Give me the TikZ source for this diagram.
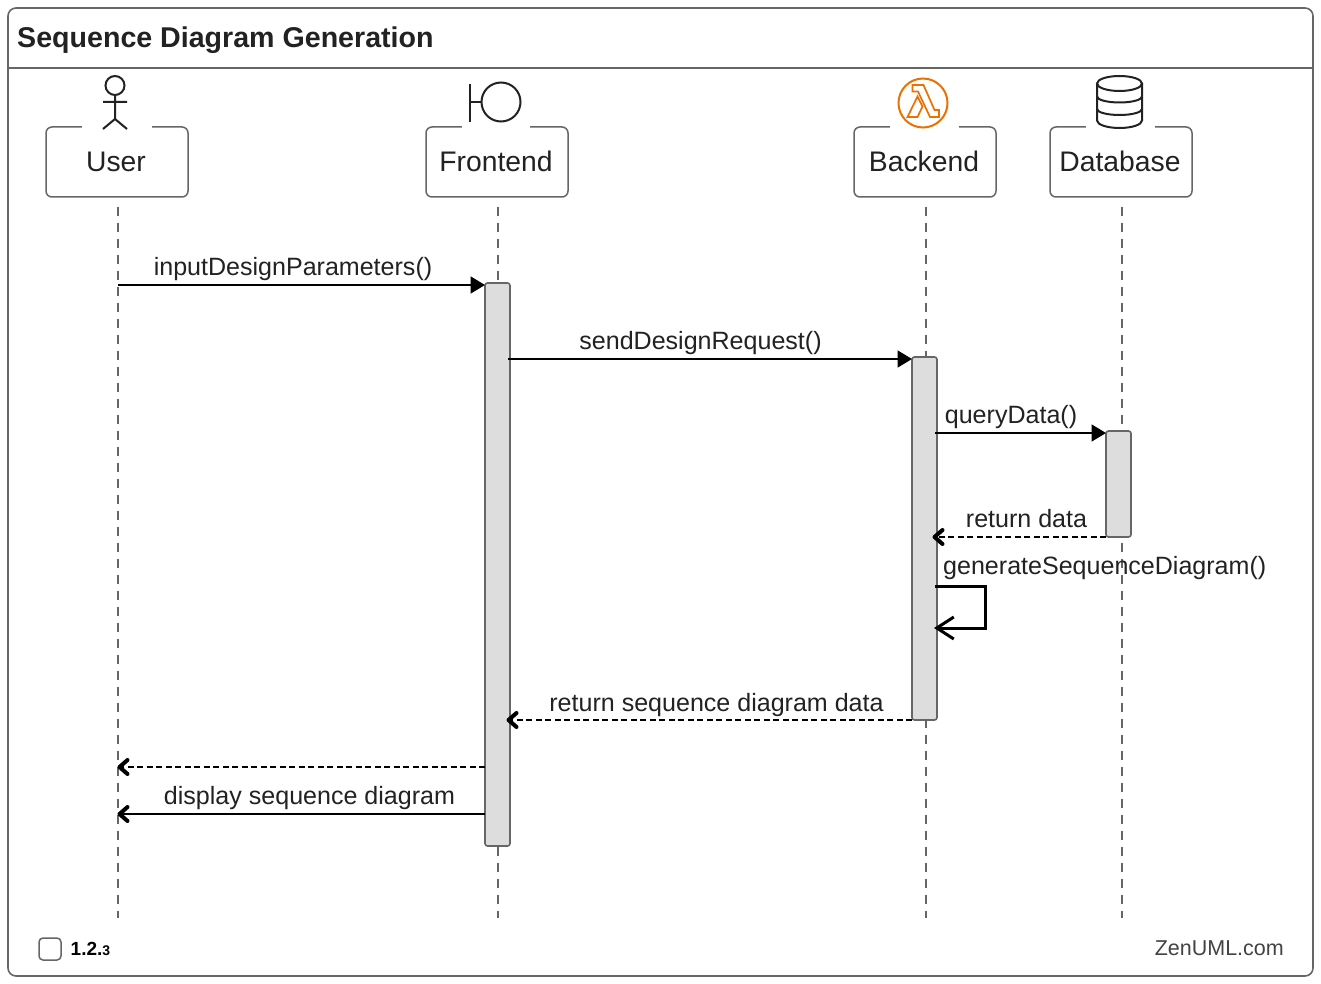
\documentclass[tikz,border=0pt]{standalone}
\usepackage{fontspec}
\setmainfont{Liberation Sans}
\usetikzlibrary{arrows.meta,calc}
\definecolor{ink}{HTML}{222222}
\definecolor{edge}{HTML}{666666}
\definecolor{barfill}{HTML}{DDDDDD}
\definecolor{lambdaorange}{HTML}{ED7100}
\tikzset{
  headbox/.style={draw=edge,line width=1.5pt,rounded corners=6pt,minimum width=142pt,minimum height=70pt,inner sep=0pt,text=ink,font=\fontsize{28.3}{34}\selectfont},
  gapwhite/.style={fill=white,draw=none},
  lifeline/.style={draw=edge,line width=1.5pt,dash pattern=on 9pt off 7pt},
  bar/.style={draw=edge,line width=1.6pt,fill=barfill,rounded corners=2.5pt,minimum width=25pt,inner sep=0pt},
  call/.style={draw=black,line width=1.7pt,-{Triangle[length=14.5pt,width=17pt]}},
  ret/.style={draw=black,line width=1.8pt,dash pattern=on 6pt off 3.5pt,-{Straight Barb[round,length=8pt,width=14pt,line width=4pt]}},
  reply/.style={draw=black,line width=1.8pt,-{Straight Barb[round,length=8pt,width=14pt,line width=4pt]}},
  selfcall/.style={draw=black,line width=3pt,-{Straight Barb[length=17pt,width=22pt,line width=3pt]}},
  msglabel/.style={anchor=base,inner sep=0pt,text=ink,font=\fontsize{25.05}{30}\selectfont},
  partlabel/.style={text=ink,inner sep=0pt,anchor=base,font=\fontsize{28.3}{34}\selectfont},
  icon/.style={draw=ink,line width=2pt},
}
\begin{document}
\begin{tikzpicture}[x=1pt,y=-1pt]
\useasboundingbox (0,0) rectangle (1321,984);
\fill[white] (0,0) rectangle (1321,984);
% frame
\node[draw=edge,line width=1.6pt,rounded corners=8pt,minimum width=1305pt,minimum height=968pt,inner sep=0pt] (frame) at (660.5,492) {};
\coordinate (hl) at (8,68);
\coordinate (hr) at (1313,68);
\draw[edge,line width=1.5pt] (hl) -- (hr);
\node[anchor=base west,inner sep=0pt,text=ink,font=\bfseries\fontsize{28.6}{34}\selectfont] (title) at (17,47.5) {Sequence Diagram Generation};
% lifelines
\foreach \n/\x in {u/118,f/498,b/926,d/1122}{
  \coordinate (\n top) at (\x,207);
  \coordinate (\n bot) at (\x,918);
  \draw[lifeline] (\n top) -- (\n bot);
}
% participants
\node[headbox] (user) at (117,162) {};
\node[headbox] (front) at (497,162) {};
\node[headbox] (back) at (925,162) {};
\node[headbox] (dbase) at (1121,162) {};
\node[partlabel] (userlbl) at (116,171.5) {User};
\node[partlabel] (frontlbl) at (496,171.5) {Frontend};
\node[partlabel] (backlbl) at (924,171.5) {Backend};
\node[partlabel] (dblbl) at (1120,171.5) {Database};
\fill[gapwhite] (82,124) rectangle (152,130);
\fill[gapwhite] (462,124) rectangle (530,130);
\fill[gapwhite] (890,124) rectangle (959,130);
\fill[gapwhite] (1086,124) rectangle (1155,130);
% actor icon
\draw[icon] (115,85.5) circle (9.5);
\draw[icon] (115,95) -- (115,119) (103,102) -- (127,102) (103,129) -- (115,119) -- (127,129);
% boundary icon
\draw[icon] (470,84) -- (470,122) (470,102) -- (481,102);
\draw[icon] (501,102) circle (19.5);
% lambda icon
\draw[lambdaorange,line width=2pt] (923,103) circle (24.5);
\draw[lambdaorange,line width=1.7pt,line join=miter]
  (912.5,85) -- (923.5,85) -- (934.5,110) -- (939,110) -- (939,117) -- (930,117) -- (918,91.5) -- (912.5,91.5) -- cycle
  (907.5,117) -- (917.5,96.5) -- (922.5,106.5) -- (917.5,117) -- cycle;
% database icon
\draw[icon,line cap=round] (1097,83.5) -- (1097,120.5) arc[start angle=180,end angle=0,x radius=22.5,y radius=7.5] -- (1142,83.5);
\draw[icon] (1119.5,83.5) ellipse [x radius=22.5,y radius=7.5];
\draw[icon] (1097,96.5) arc[start angle=180,end angle=0,x radius=22.5,y radius=6];
\draw[icon] (1097,109) arc[start angle=180,end angle=0,x radius=22.5,y radius=6];
% activation bars
\node[bar,minimum height=563pt] (fbar) at (497.5,564.5) {};
\node[bar,minimum height=363pt] (bbar) at (924.5,538.5) {};
\node[bar,minimum height=106pt] (dbar) at (1118.5,484) {};
% messages
\coordinate (m1s) at (118,285);
\coordinate (m1e) at (485,285);
\draw[call] (m1s) -- (m1e);
\node[msglabel] (m1l) at (293,275.5) {inputDesignParameters()};
\coordinate (m2s) at (508,359);
\coordinate (m2e) at (912,359);
\draw[call] (m2s) -- (m2e);
\node[msglabel] (m2l) at (700.5,349.5) {sendDesignRequest()};
\coordinate (m3s) at (935,433);
\coordinate (m3e) at (1106,433);
\draw[call] (m3s) -- (m3e);
\node[msglabel] (m3l) at (1011,423.5) {queryData()};
\coordinate (m4s) at (1106,537);
\coordinate (m4e) at (932.5,537);
\draw[ret] (m4s) -- (m4e);
\node[msglabel] (m4l) at (1026.5,527.5) {return data};
\coordinate (s1) at (935,586.5);
\coordinate (s2) at (985,586.5);
\coordinate (s3) at (985,628);
\coordinate (s4) at (934,628);
\draw[selfcall] (s1) -- (s2) -- (s3) -- (s4);
\node[msglabel,anchor=base west] (sl) at (943,574.5) {generateSequenceDiagram()};
\coordinate (m5s) at (912,720);
\coordinate (m5e) at (506.5,720);
\draw[ret] (m5s) -- (m5e);
\node[msglabel] (m5l) at (716.5,711.5) {return sequence diagram data};
\coordinate (m6s) at (485,767);
\coordinate (m6e) at (117.5,767);
\draw[ret] (m6s) -- (m6e);
\coordinate (m7s) at (485,814);
\coordinate (m7e) at (117.5,814);
\draw[reply] (m7s) -- (m7e);
\node[msglabel] (m7l) at (309.5,804.5) {display sequence diagram};
% footer
\node[draw=edge,line width=1.5pt,rounded corners=4pt,minimum width=22pt,minimum height=22pt,inner sep=0pt] (check) at (50,949) {};
\node[anchor=base west,inner sep=0pt,text=black,font=\bfseries] (ver) at (70.5,955) {\fontsize{19}{24}\selectfont 1.2.\fontsize{14}{18}\selectfont 3};
\node[anchor=base east,inner sep=0pt,text=ink!85,font=\fontsize{21.5}{25}\selectfont] (brand) at (1284,955) {ZenUML.com};
\end{tikzpicture}
\end{document}
